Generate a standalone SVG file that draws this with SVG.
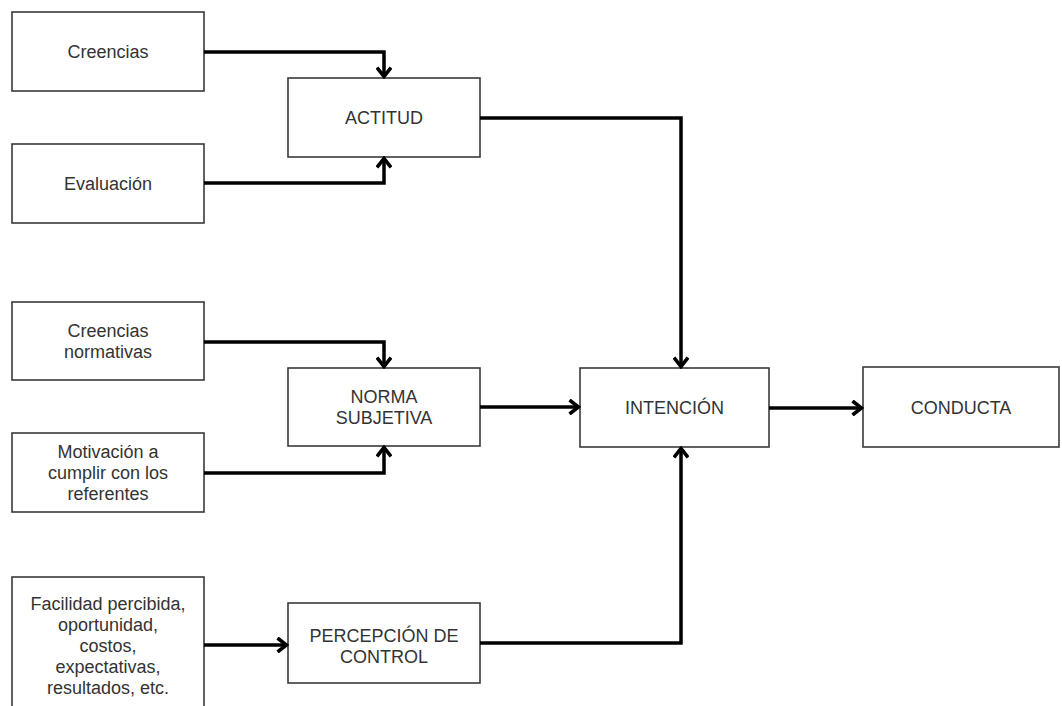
<svg xmlns="http://www.w3.org/2000/svg" width="1062" height="706" viewBox="0 0 1062 706">
  <style>
    .box { fill: #ffffff; stroke: #3a3a3a; stroke-width: 1.6; }
    .lbl { font-family: "Liberation Sans", Arial, sans-serif; font-size: 18px; fill: #333333; text-anchor: middle; }
    .conn { fill: none; stroke: #000000; stroke-width: 3.5; stroke-linejoin: miter; }
  </style>
  <defs>
    <marker id="arr" markerUnits="userSpaceOnUse" viewBox="-12 -8 14 16" refX="0" refY="0" markerWidth="14" markerHeight="16" orient="auto">
      <path d="M-9.5,-7 L-0.5,0 L-9.5,7" fill="none" stroke="#000" stroke-width="3.6" stroke-linejoin="miter"/>
    </marker>
  </defs>
  <rect width="1062" height="706" fill="#ffffff"/>

  <g id="creencias"><rect class="box" x="12" y="12" width="192" height="79"/><text class="lbl" x="108" y="58">Creencias</text></g>
  <g id="evaluacion"><rect class="box" x="12" y="144" width="192" height="79"/><text class="lbl" x="108" y="190">Evaluación</text></g>
  <g id="actitud"><rect class="box" x="288" y="78" width="192" height="79"/><text class="lbl" x="384" y="124">ACTITUD</text></g>

  <g id="creencias-normativas"><rect class="box" x="12" y="302" width="192" height="78"/><text class="lbl" x="108" y="337">Creencias</text><text class="lbl" x="108" y="358">normativas</text></g>
  <g id="motivacion"><rect class="box" x="12" y="433" width="192" height="79"/><text class="lbl" x="108" y="458">Motivación a</text><text class="lbl" x="108" y="479">cumplir con los</text><text class="lbl" x="108" y="500">referentes</text></g>
  <g id="norma-subjetiva"><rect class="box" x="288" y="368" width="192" height="78"/><text class="lbl" x="384" y="403">NORMA</text><text class="lbl" x="384" y="424">SUBJETIVA</text></g>

  <g id="intencion"><rect class="box" x="580" y="368" width="189" height="79"/><text class="lbl" x="674.5" y="414">INTENCIÓN</text></g>
  <g id="conducta"><rect class="box" x="863" y="367" width="196" height="80"/><text class="lbl" x="961" y="414">CONDUCTA</text></g>

  <g id="facilidad"><rect class="box" x="12" y="577" width="192" height="140"/><text class="lbl" x="108" y="610">Facilidad percibida,</text><text class="lbl" x="108" y="631">oportunidad,</text><text class="lbl" x="108" y="652">costos,</text><text class="lbl" x="108" y="673">expectativas,</text><text class="lbl" x="108" y="694">resultados, etc.</text></g>
  <g id="percepcion-control"><rect class="box" x="288" y="603" width="192" height="80"/><text class="lbl" x="384" y="642">PERCEPCIÓN DE</text><text class="lbl" x="384" y="663">CONTROL</text></g>

  <g id="connectors">
    <path class="conn" d="M204,52 H384 V77" marker-end="url(#arr)"/>
    <path class="conn" d="M204,183 H384 V158" marker-end="url(#arr)"/>
    <path class="conn" d="M480,118 H681 V367" marker-end="url(#arr)"/>
    <path class="conn" d="M204,342 H384 V367" marker-end="url(#arr)"/>
    <path class="conn" d="M204,473 H384 V447" marker-end="url(#arr)"/>
    <path class="conn" d="M480,407 H579" marker-end="url(#arr)"/>
    <path class="conn" d="M769,408 H862" marker-end="url(#arr)"/>
    <path class="conn" d="M204,645 H287" marker-end="url(#arr)"/>
    <path class="conn" d="M480,643 H681 V448" marker-end="url(#arr)"/>
  </g>
</svg>
